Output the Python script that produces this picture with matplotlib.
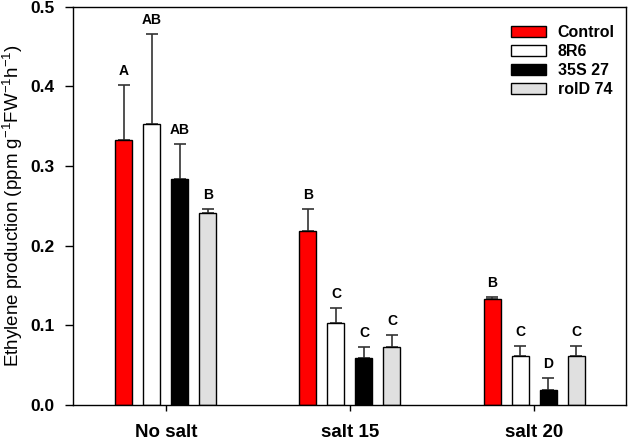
import numpy as np
import matplotlib.pyplot as plt

plt.rcParams['font.family'] = ['Liberation Sans', 'DejaVu Sans']
plt.rcParams['mathtext.default'] = 'regular'

groups = ['No salt', 'salt 15', 'salt 20']
series = ['Control', '8R6', '35S 27', 'rolD 74']
colors = ['#ff0000', '#ffffff', '#000000', '#e0e0e0']

control = [0.333, 0.219, 0.133]
r8r6 = [0.353, 0.103, 0.061]
s35 = [0.284, 0.059, 0.019]
rold = [0.241, 0.073, 0.061]

control_err = [0.069, 0.027, 0.003]
r8r6_err = [0.113, 0.019, 0.013]
s35_err = [0.044, 0.014, 0.015]
rold_err = [0.005, 0.015, 0.013]

control_lbl = ['A', 'B', 'B']
r8r6_lbl = ['AB', 'C', 'C']
s35_lbl = ['AB', 'C', 'D']
rold_lbl = ['B', 'C', 'C']

values = [control, r8r6, s35, rold]
errors = [control_err, r8r6_err, s35_err, rold_err]
letters = [control_lbl, r8r6_lbl, s35_lbl, rold_lbl]

fig = plt.figure(figsize=(6.28, 4.4), dpi=100)
ax = fig.add_axes([0.116, 0.0795, 0.881, 0.905])

x = np.arange(len(groups))
width = 0.092
step = 0.152
offsets = (np.arange(len(series)) - 1.5) * step

for i in range(len(series)):
    pos = x + offsets[i]
    ax.bar(pos, values[i], width, color=colors[i], edgecolor='black',
           linewidth=1.0, label=series[i], zorder=2)
    ax.errorbar(pos, values[i], yerr=[np.zeros(len(groups)), errors[i]],
                fmt='none', ecolor='#333333', elinewidth=1.2, capsize=4,
                capthick=1.2, zorder=1)
    for j in range(len(groups)):
        ax.annotate(letters[i][j], (pos[j], values[i][j] + errors[i][j]),
                    xytext=(0, 5), textcoords='offset points', ha='center',
                    va='bottom', fontsize=10, fontweight='bold')

ax.set_xlim(-0.505, 2.5)
ax.set_ylim(0, 0.5)
ax.set_xticks(x)
ax.set_xticklabels(groups, fontsize=13.5, fontweight='bold')
ax.set_yticks(np.arange(0, 0.51, 0.1))
ax.set_yticklabels(['%.1f' % v for v in np.arange(0, 0.51, 0.1)],
                   fontsize=12.5, fontweight='bold')
ax.tick_params(axis='y', direction='out', length=6, width=1, pad=7)
ax.tick_params(axis='x', direction='out', length=4, width=1, pad=10)
ax.set_ylabel('Ethylene production (ppm g$^{-1}$FW$^{-1}$h$^{-1}$)',
              fontsize=13.5, labelpad=4)
for s in ax.spines.values():
    s.set_linewidth(1.0)

ax.legend(loc='upper right', frameon=False, prop={'weight': 'bold', 'size': 11.5},
          handlelength=2.2, handleheight=0.7, labelspacing=0.25,
          handletextpad=0.7, bbox_to_anchor=(1.005, 0.99))

fig.savefig('out.png', dpi=100)
